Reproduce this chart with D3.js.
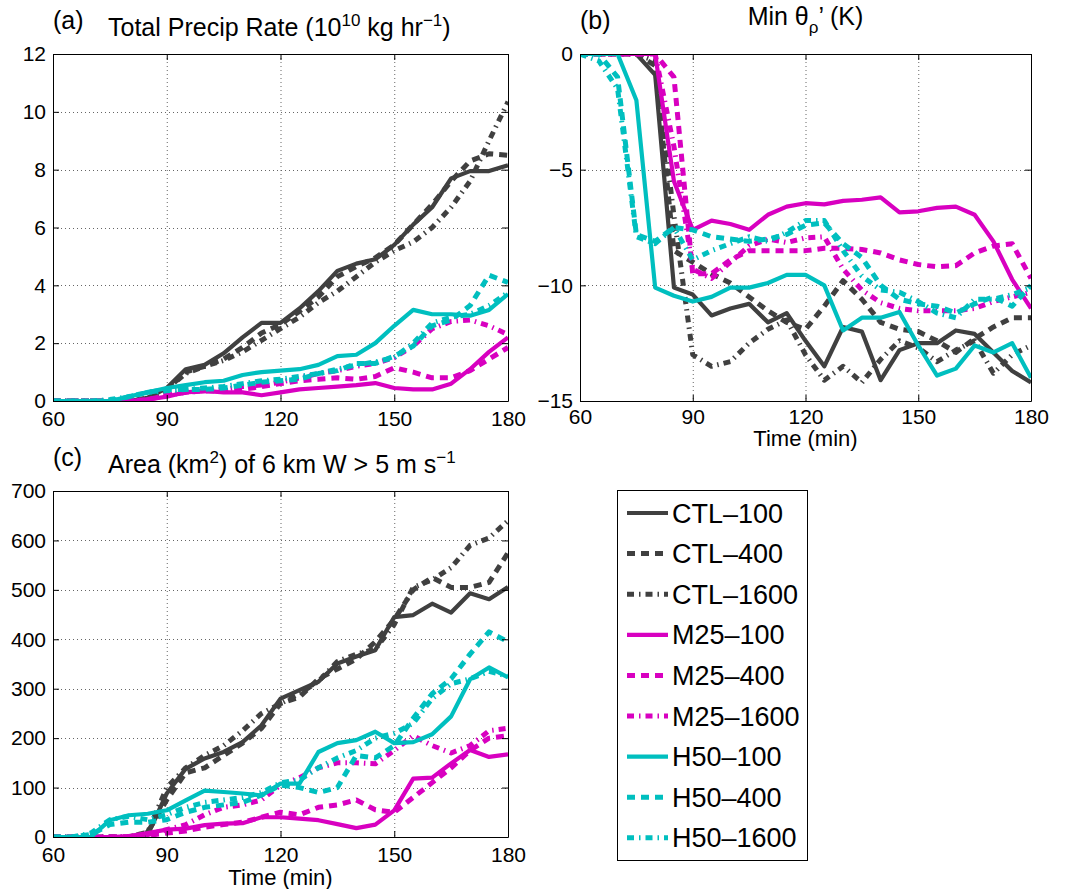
<!DOCTYPE html>
<html>
<head>
<meta charset="utf-8">
<script src="https://cdn.jsdelivr.net/npm/d3@7"></script>
<style>
  body { margin: 0; background: #fff; }
  text { font-family: "Liberation Sans", Arial, Helvetica, sans-serif; fill: #000; }
</style>
</head>
<body>
<div id="chart"></div>
<script>
// model output every 5 min
const times = [60,65,70,75,80,85,90,95,100,105,110,115,120,125,130,135,140,145,150,155,160,165,170,175,180];

const runNames = ["CTL–100","CTL–400","CTL–1600","M25–100","M25–400","M25–1600","H50–100","H50–400","H50–1600"];

// (a) total precip rate, 10^10 kg/hr
const precipRate = [
  [0,0,0,0,0,0.1,0.45,1.1,1.25,1.65,2.2,2.7,2.7,3.2,3.8,4.5,4.75,4.9,5.4,6.1,6.7,7.7,7.95,7.95,8.15],
  [0,0,0,0,0,0.1,0.4,1.0,1.2,1.45,1.85,2.35,2.65,3.1,3.6,4.3,4.65,4.95,5.4,6.1,6.8,7.6,8.3,8.55,8.5],
  [0,0,0,0,0,0.1,0.4,0.95,1.2,1.4,1.7,2.1,2.5,2.9,3.4,3.8,4.3,4.8,5.2,5.5,6.0,6.7,7.6,9.0,10.35],
  [0,0,0,0,0,0.05,0.15,0.3,0.35,0.3,0.3,0.2,0.3,0.4,0.45,0.5,0.55,0.62,0.45,0.4,0.4,0.6,1.1,1.7,2.2],
  [0,0,0,0,0,0.05,0.2,0.3,0.35,0.35,0.4,0.5,0.6,0.7,0.75,0.8,0.75,0.85,1.15,1.0,0.8,0.8,1.05,1.45,1.85],
  [0,0,0,0,0,0.05,0.2,0.3,0.35,0.4,0.5,0.55,0.65,0.8,0.95,1.05,1.2,1.3,1.5,1.9,2.5,2.75,2.8,2.6,2.3],
  [0,0,0,0,0.15,0.3,0.45,0.55,0.65,0.7,0.9,1.0,1.05,1.1,1.25,1.55,1.6,2.0,2.6,3.15,3.0,3.0,2.95,3.15,3.7],
  [0,0,0,0,0.15,0.3,0.4,0.4,0.4,0.45,0.55,0.65,0.7,0.75,0.95,1.05,1.3,1.3,1.55,1.9,2.6,2.8,3.3,4.35,4.1],
  [0,0,0,0.05,0.15,0.3,0.35,0.4,0.45,0.5,0.6,0.7,0.75,0.85,0.95,1.1,1.25,1.35,1.5,2.0,2.7,2.9,3.0,3.3,3.75]
];

// (b) min theta_rho' (K)
const minThetaRho = [
  [0,0,0,0,-0.9,-10.1,-10.4,-11.3,-11.0,-10.8,-11.6,-11.2,-12.4,-13.5,-11.8,-12.0,-14.1,-12.8,-12.5,-12.5,-11.95,-12.1,-12.9,-13.7,-14.2],
  [0,0,0,0,-0.5,-8.5,-9.0,-9.5,-9.9,-10.5,-11.1,-11.6,-11.9,-10.9,-9.8,-10.6,-11.6,-11.9,-12.0,-12.4,-12.9,-12.3,-11.8,-11.4,-11.4],
  [0,0,0,0,-0.3,-7.0,-13.0,-13.5,-13.3,-12.5,-11.9,-11.5,-13.0,-14.1,-13.5,-14.2,-13.2,-12.4,-12.7,-13.3,-12.8,-12.4,-13.8,-13.0,-12.6],
  [0,0,0,0,0,-5.5,-7.6,-7.2,-7.35,-7.6,-6.95,-6.6,-6.45,-6.5,-6.35,-6.3,-6.2,-6.85,-6.8,-6.65,-6.6,-6.95,-8.1,-9.75,-11.0],
  [0,0,0,0,0,-1.0,-9.5,-9.5,-8.9,-8.5,-8.5,-8.5,-8.5,-8.4,-8.4,-8.45,-8.6,-8.9,-9.1,-9.2,-9.15,-8.6,-8.3,-8.2,-9.7],
  [0,0,0,0,0,-4.0,-9.3,-9.7,-9.0,-8.3,-8.0,-8.15,-7.95,-7.9,-9.3,-10.2,-10.75,-11.0,-11.1,-11.1,-11.1,-11.0,-10.7,-10.5,-10.3],
  [0,0,0,-2.0,-10.1,-10.45,-10.7,-10.5,-10.1,-10.1,-9.9,-9.55,-9.55,-10.0,-11.95,-11.4,-11.4,-11.15,-12.6,-13.9,-13.6,-12.6,-12.9,-12.5,-14.0],
  [0,0,-1.0,-7.8,-8.1,-7.5,-7.6,-7.9,-8.0,-8.1,-8.0,-7.8,-7.4,-7.3,-8.2,-8.8,-10.0,-10.6,-10.8,-10.9,-11.2,-10.8,-10.5,-10.9,-10.0],
  [0,-0.3,-1.5,-7.9,-8.2,-7.5,-8.9,-8.5,-8.2,-7.9,-8.1,-7.7,-7.2,-7.2,-8.5,-9.6,-10.2,-10.3,-10.7,-11.2,-11.4,-10.6,-10.6,-10.4,-10.1]
];

// (c) area (km2) of 6 km W > 5 m/s
const updraftArea = [
  [0,0,0,0,0,5,88,138,159,172,192,226,280,297,314,351,365,378,445,449,472,454,493,481,506],
  [0,0,0,0,0,10,75,130,140,165,190,220,270,283,320,340,360,395,440,500,525,505,505,515,575],
  [0,0,0,0,0,10,100,140,165,185,215,250,270,290,315,355,370,380,430,505,520,545,590,605,640],
  [0,0,0,0,2,8,15,17,24,27,28,40,40,37,34,26,18,25,54,118,120,149,176,162,167],
  [0,0,0,0,0,3,8,12,20,25,30,40,50,45,60,65,75,55,50,80,110,140,175,200,205],
  [0,0,0,0,0,5,15,25,45,60,65,75,105,120,140,150,150,148,175,205,185,170,185,215,220],
  [0,0,0,34,44,47,54,74,94,91,88,84,108,108,172,190,196,213,190,192,208,244,319,343,323],
  [0,0,5,25,30,30,35,50,60,65,70,85,105,100,90,100,165,160,185,240,290,320,370,415,395],
  [0,0,8,35,42,35,45,60,70,75,80,90,110,115,140,160,175,200,210,230,280,310,320,335,325]
];

const xTicks = [60,90,120,150,180];
const precipTicks = [0,2,4,6,8,10,12];
const thetaTicks = [0,-5,-10,-15];
const areaTicks = [0,100,200,300,400,500,600,700];

const WIDTH = 1065, HEIGHT = 889;
const FONT = '"Liberation Sans", Arial, Helvetica, sans-serif';
const COLORS = ["#404040","#404040","#404040","#d800c0","#d800c0","#d800c0","#00bfbf","#00bfbf","#00bfbf"];
const DASHES = ["none","8,6","7,5,1.5,5","none","8,6","7,5,1.5,5","none","8,6","7,5,1.5,5"];
const WIDTHS = [4.2,5,5,4.2,5,5,4.2,5,5];

const svg = d3.select("#chart").append("svg")
    .attr("width", WIDTH).attr("height", HEIGHT)
    .style("background", "#fff");

function drawPanel(id, box, yDomain, yTicks, data, xPad) {
  const x = d3.scaleLinear().domain([60, 180]).range([box.left, box.right]);
  const y = d3.scaleLinear().domain(yDomain).range([box.bottom, box.top]);
  const g = svg.append("g");

  g.append("clipPath").attr("id", "clip-" + id)
    .append("rect")
    .attr("x", box.left).attr("y", box.top)
    .attr("width", box.right - box.left).attr("height", box.bottom - box.top);

  // dotted grid
  const grid = g.append("g").attr("stroke", "#666").attr("stroke-width", 1)
      .attr("stroke-dasharray", "1,3");
  grid.selectAll(".gx").data(xTicks.slice(1, -1)).enter().append("line")
      .attr("x1", d => x(d) + 0.5).attr("x2", d => x(d) + 0.5)
      .attr("y1", box.top).attr("y2", box.bottom);
  grid.selectAll(".gy").data(yTicks.filter(d => d !== yDomain[0] && d !== yDomain[1])).enter().append("line")
      .attr("x1", box.left).attr("x2", box.right)
      .attr("y1", d => Math.round(y(d)) + 0.5).attr("y2", d => Math.round(y(d)) + 0.5);

  // series
  const line = d3.line().x((d, i) => x(times[i])).y(d => y(d));
  g.append("g").attr("clip-path", `url(#clip-${id})`)
    .selectAll("path").data(data).enter().append("path")
      .attr("d", line)
      .attr("fill", "none")
      .attr("stroke", (d, i) => COLORS[i])
      .attr("stroke-width", (d, i) => WIDTHS[i])
      .attr("stroke-dasharray", (d, i) => DASHES[i])
      .attr("stroke-linejoin", "round");

  // axes, ticks pointing inward, mirrored on top/right
  const styleAxis = sel => {
    sel.attr("font-size", 21).attr("font-family", FONT);
    sel.select(".domain").attr("stroke", "#000");
    sel.selectAll(".tick line").attr("stroke", "#000");
    sel.selectAll("text").attr("fill", "#000");
  };
  g.append("g").attr("transform", `translate(0,${box.bottom})`)
    .call(d3.axisBottom(x).tickValues(xTicks).tickSize(-6).tickSizeOuter(0).tickPadding(xPad))
    .call(styleAxis);
  g.append("g").attr("transform", `translate(0,${box.top})`)
    .call(d3.axisTop(x).tickValues(xTicks).tickSize(-6).tickSizeOuter(0).tickFormat(""))
    .call(styleAxis);
  g.append("g").attr("transform", `translate(${box.left},0)`)
    .call(d3.axisLeft(y).tickValues(yTicks).tickSize(-6).tickSizeOuter(0).tickPadding(7))
    .call(styleAxis);
  g.append("g").attr("transform", `translate(${box.right},0)`)
    .call(d3.axisRight(y).tickValues(yTicks).tickSize(-6).tickSizeOuter(0).tickFormat(""))
    .call(styleAxis);
  return g;
}

const boxA = { left: 53, right: 508, top: 54, bottom: 401 };
const boxB = { left: 580, right: 1031, top: 54, bottom: 401 };
const boxC = { left: 53, right: 508, top: 491, bottom: 837 };

drawPanel("a", boxA, [0, 12], precipTicks, precipRate, 10);
drawPanel("b", boxB, [-15, 0], thetaTicks, minThetaRho, 8);
drawPanel("c", boxC, [0, 700], areaTicks, updraftArea, 10);

// titles
const TITLE_SIZE = 25;
function addText(x, y, size, anchor) {
  return svg.append("text").attr("x", x).attr("y", y)
    .attr("font-size", size).attr("text-anchor", anchor || "start");
}

addText(53, 29, TITLE_SIZE).text("(a)");
const tA = addText(108, 36, TITLE_SIZE);
tA.append("tspan").text("Total Precip Rate (10");
tA.append("tspan").attr("dy", -10).attr("font-size", 17).text("10");
tA.append("tspan").attr("dy", 10).text(" kg hr");
tA.append("tspan").attr("dy", -10).attr("font-size", 17).text("−1");
tA.append("tspan").attr("dy", 10).text(")");

addText(580, 29, TITLE_SIZE).text("(b)");
const tB = addText((boxB.left + boxB.right) / 2, 25, TITLE_SIZE, "middle");
tB.append("tspan").text("Min θ");
tB.append("tspan").attr("dy", 8).attr("font-size", 17).text("ρ");
tB.append("tspan").attr("dy", -8).text("’ (K)");

addText(53, 466, TITLE_SIZE).text("(c)");
const tC = addText(108, 473, TITLE_SIZE);
tC.append("tspan").text("Area (km");
tC.append("tspan").attr("dy", -10).attr("font-size", 17).text("2");
tC.append("tspan").attr("dy", 10).text(") of 6 km W > 5 m s");
tC.append("tspan").attr("dy", -10).attr("font-size", 17).text("−1");

addText((boxB.left + boxB.right) / 2, 446, 22, "middle").text("Time (min)");
addText((boxC.left + boxC.right) / 2, 885, 22, "middle").text("Time (min)");

// legend
const legend = svg.append("g");
legend.append("rect")
  .attr("x", 617.5).attr("y", 490.5).attr("width", 190).attr("height", 370)
  .attr("fill", "#fff").attr("stroke", "#000").attr("stroke-width", 1);
const rows = legend.selectAll(".row").data(runNames).enter().append("g")
  .attr("transform", (d, i) => `translate(0,${513 + i * 40.6})`);
rows.append("line")
  .attr("x1", 627).attr("x2", 668).attr("y1", 0).attr("y2", 0)
  .attr("stroke", (d, i) => COLORS[i])
  .attr("stroke-width", (d, i) => WIDTHS[i])
  .attr("stroke-dasharray", (d, i) => DASHES[i]);
rows.append("text")
  .attr("x", 672).attr("y", 9.5)
  .attr("font-size", 27)
  .text(d => d);
</script>
</body>
</html>
